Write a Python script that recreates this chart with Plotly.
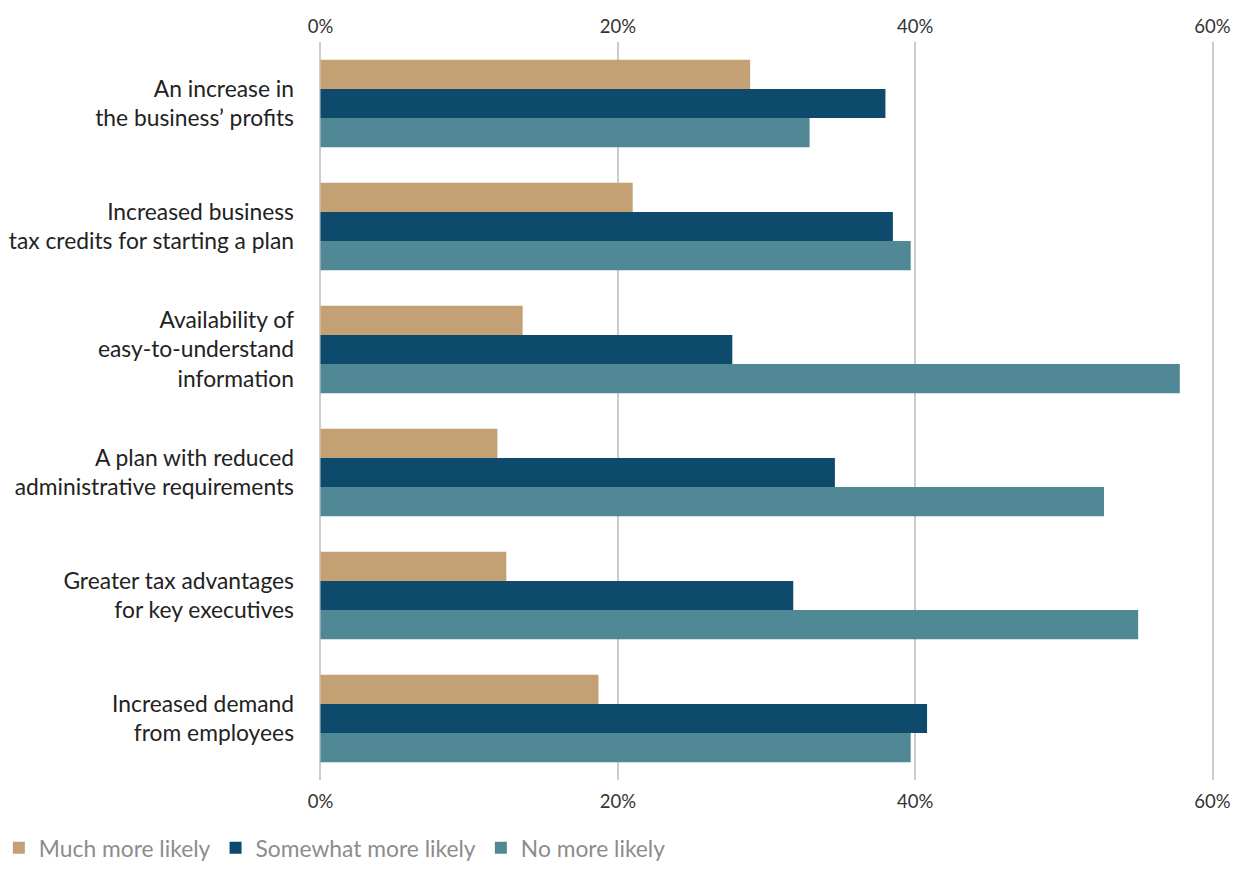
import plotly.graph_objects as go

categories = [
    "An increase in<br>the business’ profits",
    "Increased business<br>tax credits for starting a plan",
    "Availability of<br>easy-to-understand<br>information",
    "A plan with reduced<br>administrative requirements",
    "Greater tax advantages<br>for key executives",
    "Increased demand<br>from employees",
]
much_more = [28.9, 21.0, 13.6, 11.9, 12.5, 18.7]
somewhat_more = [38.0, 38.5, 27.7, 34.6, 31.8, 40.8]
no_more = [32.9, 39.7, 57.8, 52.7, 55.0, 39.7]
tick_vals = [0, 20, 40, 60]
tick_text = ["0%", "20%", "40%", "60%"]

series = [
    ("Much more likely", much_more, "#C4A174"),
    ("Somewhat more likely", somewhat_more, "#0E4A6B"),
    ("No more likely", no_more, "#508896"),
]

fig = go.Figure()
for name, vals, color in series:
    fig.add_trace(go.Bar(
        y=categories, x=vals, name=name, orientation="h",
        marker=dict(color=color, line=dict(width=0)),
    ))

# invisible helper so the bottom axis is drawn
fig.add_trace(go.Scatter(
    x=[tick_vals[0]], y=[categories[0]], xaxis="x2", mode="markers",
    marker=dict(opacity=0), showlegend=False, hoverinfo="skip",
))

tickfont = dict(family="Lato, sans-serif", size=18.5, color="#333333")
x_range = [-0.1, 60.1]  # small pad so the 0% and 60% gridlines are drawn

# the page body adds an 8px margin, so the figure is sized to fit the window
fig.update_layout(
    width=1223, height=855,
    margin=dict(l=310.5, r=16.5, t=34, b=83, autoexpand=False),
    paper_bgcolor="white", plot_bgcolor="white",
    font=dict(family="Lato, sans-serif", color="#222222"),
    barmode="group", bargap=0.29, bargroupgap=0,
    showlegend=True,
    legend=dict(
        orientation="h", xref="paper", yref="paper",
        x=-0.3577, y=-0.0921, xanchor="left", yanchor="middle",
        font=dict(size=22.8, color="#8C8C8C"),
        itemwidth=30, traceorder="normal",
    ),
    xaxis=dict(
        side="top", range=x_range, tickvals=tick_vals, ticktext=tick_text,
        showgrid=True, gridcolor="#CCCCCC", gridwidth=1.5,
        zeroline=False, showline=False, ticks="", automargin=False,
        tickfont=tickfont, ticklabelstandoff=4, ticklabeloverflow="allow",
    ),
    xaxis2=dict(
        overlaying="x", side="bottom", anchor="y", range=x_range,
        tickvals=tick_vals, ticktext=tick_text, showgrid=False,
        zeroline=False, showline=False, ticks="", automargin=False,
        tickfont=tickfont, ticklabelstandoff=8, ticklabeloverflow="allow",
    ),
    yaxis=dict(
        autorange="reversed", showgrid=False, zeroline=False, showline=False,
        ticks="", tickfont=dict(family="Lato, sans-serif", size=22.8, color="#222222"),
        ticklabelstandoff=24, automargin=False,
    ),
)

fig.write_html("out.html")
